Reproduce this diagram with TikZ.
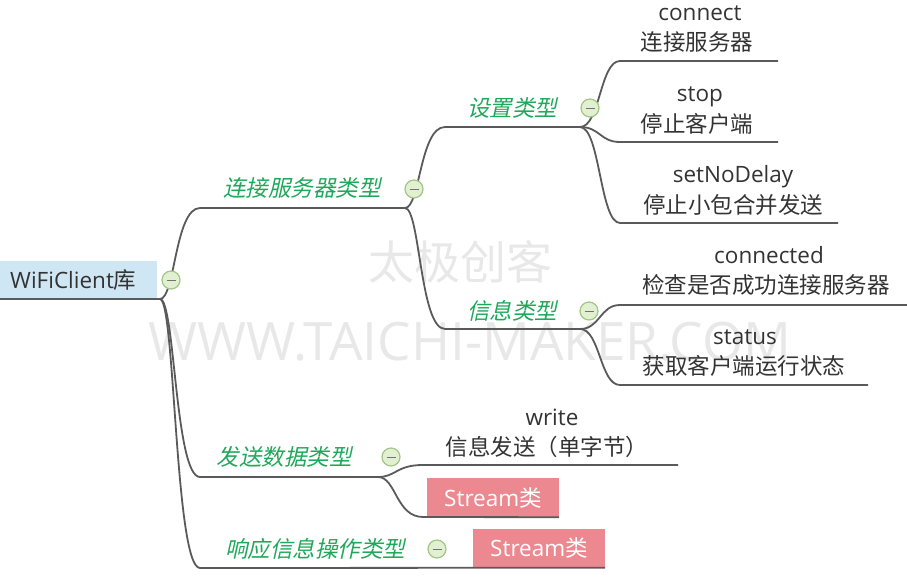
\documentclass[tikz,border=0pt]{standalone}
\usepackage{fontspec}
\setmainfont{Open Sans}
\newfontfamily\cjk{Noto Sans CJK SC}
\newfontfamily\cjkit[FakeSlant=0.22]{Noto Sans CJK SC}
\definecolor{edgecol}{HTML}{5A5A5A}
\definecolor{rootfill}{HTML}{CFE7F5}
\definecolor{lblgreen}{HTML}{1FA85A}
\definecolor{pinkbox}{HTML}{EC8990}
\definecolor{ctrlfill}{HTML}{E2F0D2}
\definecolor{ctrldraw}{HTML}{A3C585}
\definecolor{wmark}{HTML}{E8E8E8}
\tikzset{
  edge/.style={draw=edgecol, line width=1.8pt},
  txt/.style={inner sep=0pt, text=black!80, font=\fontsize{22.5}{27}\selectfont},
  lbl/.style={inner sep=0pt, text=lblgreen, font=\fontsize{22.5}{27}\selectfont\cjkit},
  collapse/.style={circle, minimum size=18pt, inner sep=0pt, fill=ctrlfill, draw=ctrldraw, line width=1.2pt,
    path picture={\draw[black!55, line width=0.9pt] ([xshift=-4.5pt]path picture bounding box.center) -- ([xshift=4.5pt]path picture bounding box.center);}},
  streambox/.style={fill=pinkbox, text=white, inner sep=0pt, minimum width=132pt, minimum height=39pt, font=\fontsize{22.5}{27}\selectfont}
}
\begin{document}
\begin{tikzpicture}[x=1pt, y=-1pt]
\useasboundingbox (0,0) rectangle (907,579);
% watermark
\node[inner sep=0pt, text=wmark, font=\fontsize{46}{50}\selectfont\cjk] (wm1) at (460,262) {太极创客};
\node[inner sep=0pt, text=wmark, font=\fontsize{53}{57}\selectfont] (wm2) at (470,342) {WWW.TAICHI-MAKER.COM};

% root
\fill[rootfill] (0,261) rectangle (157,299);
\node[txt, anchor=west] (root) at (10,280) {WiFiClient{\cjk 库}};
\coordinate (rootS) at (0,299);
\coordinate (rootE) at (160,299);

% level-1 line coordinates
\coordinate (aS) at (200,208); \coordinate (aE) at (405,208);
\coordinate (bS) at (200,477); \coordinate (bE) at (378,477);
\coordinate (cS) at (200,568);

% level-2
\coordinate (a1S) at (445,127); \coordinate (a1E) at (580,127);
\coordinate (a2S) at (445,329); \coordinate (a2E) at (580,329);

% level-3 coords
\coordinate (k1S) at (620,61);  \coordinate (k1E) at (778,61);
\coordinate (k2S) at (620,142); \coordinate (k2E) at (778,142);
\coordinate (k3S) at (620,223); \coordinate (k3E) at (838,223);
\coordinate (k4S) at (620,305); \coordinate (k4E) at (907,305);
\coordinate (k5S) at (620,385); \coordinate (k5E) at (868,385);
\coordinate (wS) at (423,465);  \coordinate (wE) at (678,465);
\coordinate (s1L) at (423,517);

% stream boxes
\node[streambox] (s1) at (493,497.5) {Stream{\cjk 类}};
\node[streambox] (s2) at (539,548) {Stream{\cjk 类}};

% connectors
\draw[edge] (rootS) -- (rootE);
\draw[edge] (rootE) .. controls +(15,0) and +(-25,0) .. (aS) -- (aE);
\draw[edge] (rootE) .. controls +(15,0) and +(-25,0) .. (bS) -- (bE);
\draw[edge] (rootE) .. controls +(15,0) and +(-25,0) .. (cS) -- (s2.south east);
\draw[edge] (aE) .. controls +(15,0) and +(-25,0) .. (a1S) -- (a1E);
\draw[edge] (aE) .. controls +(15,0) and +(-25,0) .. (a2S) -- (a2E);
\draw[edge] (a1E) .. controls +(20,0) and +(-20,0) .. (k1S) -- (k1E);
\draw[edge] (a1E) .. controls +(20,0) and +(-20,0) .. (k2S) -- (k2E);
\draw[edge] (a1E) .. controls +(20,0) and +(-20,0) .. (k3S) -- (k3E);
\draw[edge] (a2E) .. controls +(20,0) and +(-20,0) .. (k4S) -- (k4E);
\draw[edge] (a2E) .. controls +(20,0) and +(-20,0) .. (k5S) -- (k5E);
\draw[edge] (bE) .. controls +(18,0) and +(-27,0) .. (wS) -- (wE);
\draw[edge] (bE) .. controls +(18,0) and +(-27,0) .. (s1L) -- (s1.south east);

% labels
\node[lbl] (la) at (302,188) {连接服务器类型};
\node[lbl] (la1) at (512,108) {设置类型};
\node[lbl] (la2) at (512,311) {信息类型};
\node[lbl] (lb) at (284,457) {发送数据类型};
\node[lbl] (lc) at (315,549) {响应信息操作类型};

% leaf texts
\node[txt, anchor=base] (t1a) at (700,20) {connect};
\node[txt] (t1b) at (697,42) {\cjk 连接服务器};
\node[txt, anchor=base] (t2a) at (700,101) {stop};
\node[txt] (t2b) at (697,124) {\cjk 停止客户端};
\node[txt, anchor=base] (t3a) at (733,182) {setNoDelay};
\node[txt] (t3b) at (733,205) {\cjk 停止小包合并发送};
\node[txt, anchor=base] (t4a) at (769,263) {connected};
\node[txt] (t4b) at (766,285) {\cjk 检查是否成功连接服务器};
\node[txt, anchor=base] (t5a) at (745,344) {status};
\node[txt] (t5b) at (744,366) {\cjk 获取客户端运行状态};
\node[txt, anchor=base] (t6a) at (552,425) {write};
\node[txt] (t6b) at (547,447) {\cjk 信息发送（单字节）};

% collapse buttons
\node[collapse] (c0) at (171,280) {};
\node[collapse] (c1) at (414,189) {};
\node[collapse] (c2) at (590,108) {};
\node[collapse] (c3) at (589,311) {};
\node[collapse] (c4) at (391,457) {};
\node[collapse] (c5) at (437,549) {};
\end{tikzpicture}
\end{document}
